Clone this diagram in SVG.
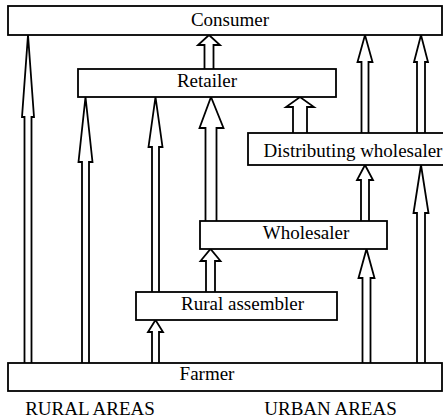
<svg xmlns="http://www.w3.org/2000/svg" width="443" height="420" viewBox="0 0 443 420">
  <style>
    .box { fill: #fff; stroke: #000; stroke-width: 1.8; }
    .arrow { fill: #fff; stroke: #000; stroke-width: 1.8; stroke-linejoin: miter; }
    .lbl { font-family: "Liberation Serif", "Times New Roman", serif; font-size: 19px; fill: #000; text-anchor: middle; }
  </style>
  <rect width="443" height="420" fill="#fff"/>

  <!-- connectors: hollow arrows, open at the base where they leave a box -->
  <g id="connectors">
    <!-- farmer -> consumer -->
    <polyline class="arrow" points="24.5,363 24.5,117 22,117 28,35 34,117 31.5,117 31.5,363"/>
    <!-- farmer -> retailer -->
    <polyline class="arrow" points="82,363 82,162 78.5,162 85.5,97 92.5,162 89,162 89,363"/>
    <!-- rural assembler -> retailer -->
    <polyline class="arrow" points="152,292 152,147 148.5,147 155.5,97 162.5,147 159,147 159,292"/>
    <!-- retailer -> consumer -->
    <polyline class="arrow" points="204.5,69 204.5,45 198,45 209,35 220,45 213.5,45 213.5,69"/>
    <!-- wholesaler -> retailer -->
    <polyline class="arrow" points="205.5,221 205.5,128 199.5,128 211,97 223.5,128 216.5,128 216.5,221"/>
    <!-- distributing wholesaler -> retailer -->
    <polyline class="arrow" points="293,133 293,107 286,107 300,97 314,107 307,107 307,133"/>
    <!-- distributing wholesaler -> consumer (left) -->
    <polyline class="arrow" points="361.5,133 361.5,62 357.5,62 365,35 372.5,62 368.5,62 368.5,133"/>
    <!-- distributing wholesaler -> consumer (right) -->
    <polyline class="arrow" points="417,133 417,62 414,62 421,35 428,62 425,62 425,133"/>
    <!-- wholesaler -> distributing wholesaler -->
    <polyline class="arrow" points="361,221 361,180 357,180 365,165 373,180 369,180 369,221"/>
    <!-- farmer -> distributing wholesaler -->
    <polyline class="arrow" points="417,363 417,213 413.5,213 421,165 428.5,213 425,213 425,363"/>
    <!-- farmer -> wholesaler -->
    <polyline class="arrow" points="362.5,363 362.5,278 358.5,278 366.5,249 374.5,278 370.5,278 370.5,363"/>
    <!-- rural assembler -> wholesaler -->
    <polyline class="arrow" points="206,292 206,261 200.5,261 210.5,249 220.5,261 215,261 215,292"/>
    <!-- farmer -> rural assembler -->
    <polyline class="arrow" points="152,363 152,332 148,332 155.5,320 163,332 159,332 159,363"/>
  </g>

  <g id="consumer">
    <rect class="box" x="8" y="6" width="434" height="29"/>
    <text class="lbl" x="230" y="26">Consumer</text>
  </g>
  <g id="retailer">
    <rect class="box" x="78" y="69" width="258" height="28"/>
    <text class="lbl" x="207" y="87">Retailer</text>
  </g>
  <g id="distributing-wholesaler">
    <rect class="box" x="248" y="133" width="200" height="32"/>
    <text class="lbl" x="353" y="157">Distributing wholesaler</text>
  </g>
  <g id="wholesaler">
    <rect class="box" x="200" y="221" width="187" height="28"/>
    <text class="lbl" x="306" y="239">Wholesaler</text>
  </g>
  <g id="rural-assembler">
    <rect class="box" x="136" y="292" width="201" height="28"/>
    <text class="lbl" x="242.5" y="310">Rural assembler</text>
  </g>
  <g id="farmer">
    <rect class="box" x="8" y="363" width="434" height="28"/>
    <text class="lbl" x="207" y="380">Farmer</text>
  </g>

  <g id="area-labels">
    <text class="lbl" x="90" y="415">RURAL AREAS</text>
    <text class="lbl" x="330.5" y="415">URBAN AREAS</text>
  </g>
</svg>
